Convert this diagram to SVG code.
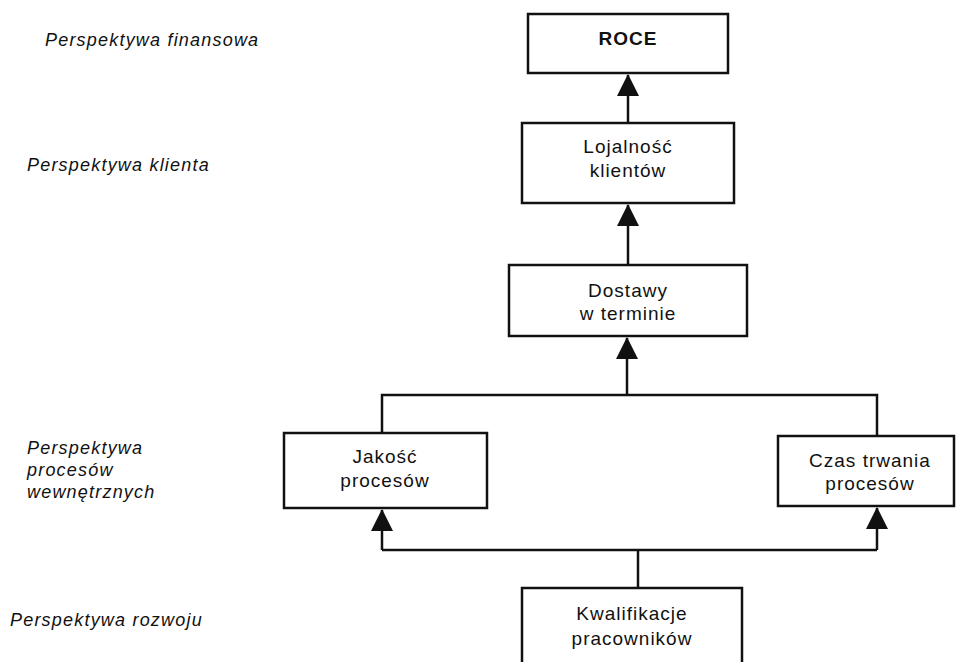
<svg xmlns="http://www.w3.org/2000/svg" width="960" height="662" viewBox="0 0 960 662">
<style>
.box{fill:#fff;stroke:#111;stroke-width:2.5}
.t{font-family:"Liberation Sans",Arial,sans-serif;font-size:19px;letter-spacing:1px;fill:#111;text-anchor:middle}
.b{font-weight:bold}
.lbl{font-family:"Liberation Sans",Arial,sans-serif;font-size:18px;font-style:italic;letter-spacing:1.2px;fill:#111}
.ln{fill:none;stroke:#111;stroke-width:2.5}
</style>
<defs>
<marker id="ah" markerUnits="userSpaceOnUse" markerWidth="22" markerHeight="22" viewBox="0 0 22 22" refX="21" refY="11" orient="auto">
<path d="M0,0 L22,11 L0,22 Z" fill="#111"/>
</marker>
</defs>
<g id="labels">
<text class="lbl" x="45" y="46">Perspektywa finansowa</text>
<text class="lbl" x="27" y="171">Perspektywa klienta</text>
<text class="lbl" x="27" y="454">Perspektywa</text>
<text class="lbl" x="27" y="476">procesów</text>
<text class="lbl" x="27" y="498">wewnętrznych</text>
<text class="lbl" x="10" y="626">Perspektywa rozwoju</text>
</g>
<g id="connectors">
<path class="ln" d="M628,123 L628,75" marker-end="url(#ah)"/>
<path class="ln" d="M628,264 L628,205" marker-end="url(#ah)"/>
<path class="ln" d="M627,395 L627,338" marker-end="url(#ah)"/>
<path class="ln" d="M382,433 L382,395 L877,395 L877,436"/>
<path class="ln" d="M638,588 L638,550"/>
<path class="ln" d="M382,550 L877,550"/>
<path class="ln" d="M382,550 L382,510" marker-end="url(#ah)"/>
<path class="ln" d="M877,550 L877,508" marker-end="url(#ah)"/>
</g>
<g id="roce">
<rect class="box" x="528" y="14" width="200" height="59"/>
<text class="t b" x="628" y="45">ROCE</text>
</g>
<g id="lojalnosc">
<rect class="box" x="522" y="123" width="212" height="80"/>
<text class="t" x="628" y="153">Lojalność</text>
<text class="t" x="628" y="177">klientów</text>
</g>
<g id="dostawy">
<rect class="box" x="509" y="265" width="238" height="71"/>
<text class="t" x="628" y="297">Dostawy</text>
<text class="t" x="628" y="320">w terminie</text>
</g>
<g id="jakosc">
<rect class="box" x="284" y="433" width="203" height="75"/>
<text class="t" x="385" y="463">Jakość</text>
<text class="t" x="385" y="487">procesów</text>
</g>
<g id="czas">
<rect class="box" x="778" y="436" width="176" height="70"/>
<text class="t" x="870" y="467">Czas trwania</text>
<text class="t" x="870" y="490">procesów</text>
</g>
<g id="kwalifikacje">
<rect class="box" x="522" y="588" width="220" height="90"/>
<text class="t" x="632" y="620">Kwalifikacje</text>
<text class="t" x="632" y="645">pracowników</text>
</g>
</svg>
